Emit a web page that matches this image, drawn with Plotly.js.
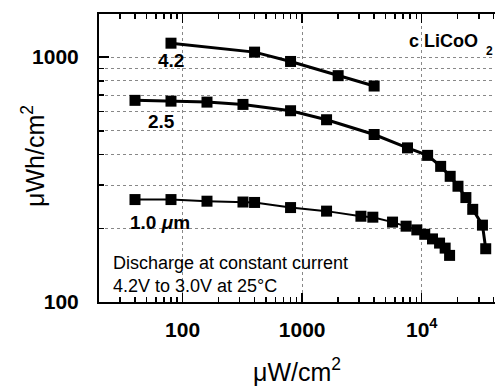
<!DOCTYPE html>
<html>
<head>
<meta charset="utf-8">
<script src="https://cdn.plot.ly/plotly-3.0.1.min.js"></script>
<style>html,body{margin:0;padding:0;background:#fff;overflow:hidden}#chart{width:495px;height:386px}</style>
</head>
<body>
<div id="chart"></div>
<script>
// Power density (µW/cm²) and energy density (µWh/cm²) for three LiCoO2 film thicknesses
const power42 = [80, 400, 800, 2000, 4000];
const energy42 = [1140, 1048, 960, 840, 762];

const power25 = [40, 80, 160, 320, 800, 1600, 4000, 7600, 11200, 14400, 17300, 20100, 23400, 26700, 32200, 34300];
const energy25 = [666, 661, 655, 641, 604, 555, 483, 426, 397, 358, 326, 297, 267, 239, 206, 165];

const power10 = [40, 80, 160, 320, 400, 800, 1600, 3100, 3900, 5700, 7400, 9100, 10600, 12300, 14100, 15700, 17100];
const energy10 = [262, 262, 258, 256, 255, 243, 235, 224, 222, 212, 204, 197, 189, 181, 174, 166, 155];

const xTickVals = [100, 1000, 10000];
const xTickText = ['100', '1000', '10<sup>4</sup>'];
const yTickVals = [100, 1000];
const yTickText = ['100', '1000'];

const FONT = 'Liberation Sans, Arial, Helvetica, sans-serif';

// minor tick positions (2..9 within each decade)
const xMinor = [];
[10, 100, 1000, 10000].forEach(d => { for (let k = 2; k <= 9; k++) { const v = k * d; if (v >= 20 && v <= 41000) xMinor.push(v); } });
const yMinor = [];
for (let k = 2; k <= 9; k++) yMinor.push(k * 100);

function series(x, y, w) {
  return {
    x: x, y: y, type: 'scatter', mode: 'lines+markers',
    line: {color: '#000', width: w},
    marker: {symbol: 'square', size: 11, color: '#000'},
    showlegend: false, hoverinfo: 'x+y'
  };
}

const data = [series(power42, energy42, 3), series(power25, energy25, 3), series(power10, energy10, 2)];

const layout = {
  width: 495, height: 386,
  margin: {l: 99, r: 0, t: 14, b: 84},
  paper_bgcolor: '#fff', plot_bgcolor: '#fff',
  font: {family: FONT, color: '#000'},
  xaxis: {
    type: 'log', range: [Math.log10(20), Math.log10(41000)],
    tickvals: xTickVals, ticktext: xTickText,
    ticks: 'inside', ticklen: 9, tickwidth: 1.5, tickcolor: '#000',
    showline: true, linewidth: 2, linecolor: '#000', mirror: 'ticks',
    showgrid: true, gridcolor: '#888', gridwidth: 1, griddash: 'dot',
    zeroline: false,
    tickfont: {family: FONT, size: 21, weight: 700, color: '#000'},
    ticklabelstandoff: 8,
    minor: {tickvals: xMinor, ticks: 'inside', ticklen: 5, tickwidth: 1.5, tickcolor: '#000', showgrid: false},
    title: {text: 'μW/cm<sup>2</sup>', font: {family: FONT, size: 25, color: '#000'}, standoff: 26}
  },
  yaxis: {
    type: 'log', range: [2, Math.log10(1500)],
    tickvals: yTickVals, ticktext: yTickText,
    ticks: 'inside', ticklen: 10, tickwidth: 1.5, tickcolor: '#000',
    showline: true, linewidth: 2, linecolor: '#000', mirror: false,
    showgrid: true, gridcolor: '#888', gridwidth: 1, griddash: 'dot',
    zeroline: false,
    tickfont: {family: FONT, size: 21, weight: 700, color: '#000'},
    ticklabelstandoff: 14,
    minor: {tickvals: yMinor, ticks: 'inside', ticklen: 5, tickwidth: 1.5, tickcolor: '#000', showgrid: true, gridcolor: '#888', gridwidth: 1, griddash: 'dot'}
  },
  annotations: [
    {xref: 'paper', yref: 'paper', x: -0.1667, y: 0.507, text: 'μWh/cm<sup>2</sup>', textangle: -90, showarrow: false,
     font: {family: FONT, size: 25, color: '#000'}, xanchor: 'center', yanchor: 'middle'},
    {xref: 'paper', yref: 'paper', x: 0.1818, y: 0.837, text: '4.2', showarrow: false,
     font: {family: FONT, size: 19, weight: 700, color: '#000'}, xanchor: 'center', yanchor: 'middle'},
    {xref: 'paper', yref: 'paper', x: 0.159, y: 0.626, text: '2.5', showarrow: false,
     font: {family: FONT, size: 19, weight: 700, color: '#000'}, xanchor: 'center', yanchor: 'middle'},
    {xref: 'paper', yref: 'paper', x: 0.0732, y: 0.275, text: '1.0 <i>μ</i>m', showarrow: false,
     font: {family: FONT, size: 19, weight: 700, color: '#000'}, xanchor: 'left', yanchor: 'middle'},
    {xref: 'paper', yref: 'paper', x: 0.777, y: 0.906, text: 'c LiCoO', showarrow: false,
     font: {family: FONT, size: 18, weight: 700, color: '#000'}, xanchor: 'left', yanchor: 'middle'},
    {xref: 'paper', yref: 'paper', x: 0.987, y: 0.870, text: '2', showarrow: false,
     font: {family: FONT, size: 12, weight: 700, color: '#000'}, xanchor: 'center', yanchor: 'middle'},
    {xref: 'paper', yref: 'paper', x: 0.031, y: 0.0972, text: 'Discharge at constant current<br>4.2V to 3.0V at 25°C', showarrow: false, align: 'left',
     font: {family: FONT, size: 18, color: '#000'}, xanchor: 'left', yanchor: 'middle'}
  ]
};

Plotly.newPlot('chart', data, layout, {displayModeBar: false, staticPlot: true});
</script>
</body>
</html>
